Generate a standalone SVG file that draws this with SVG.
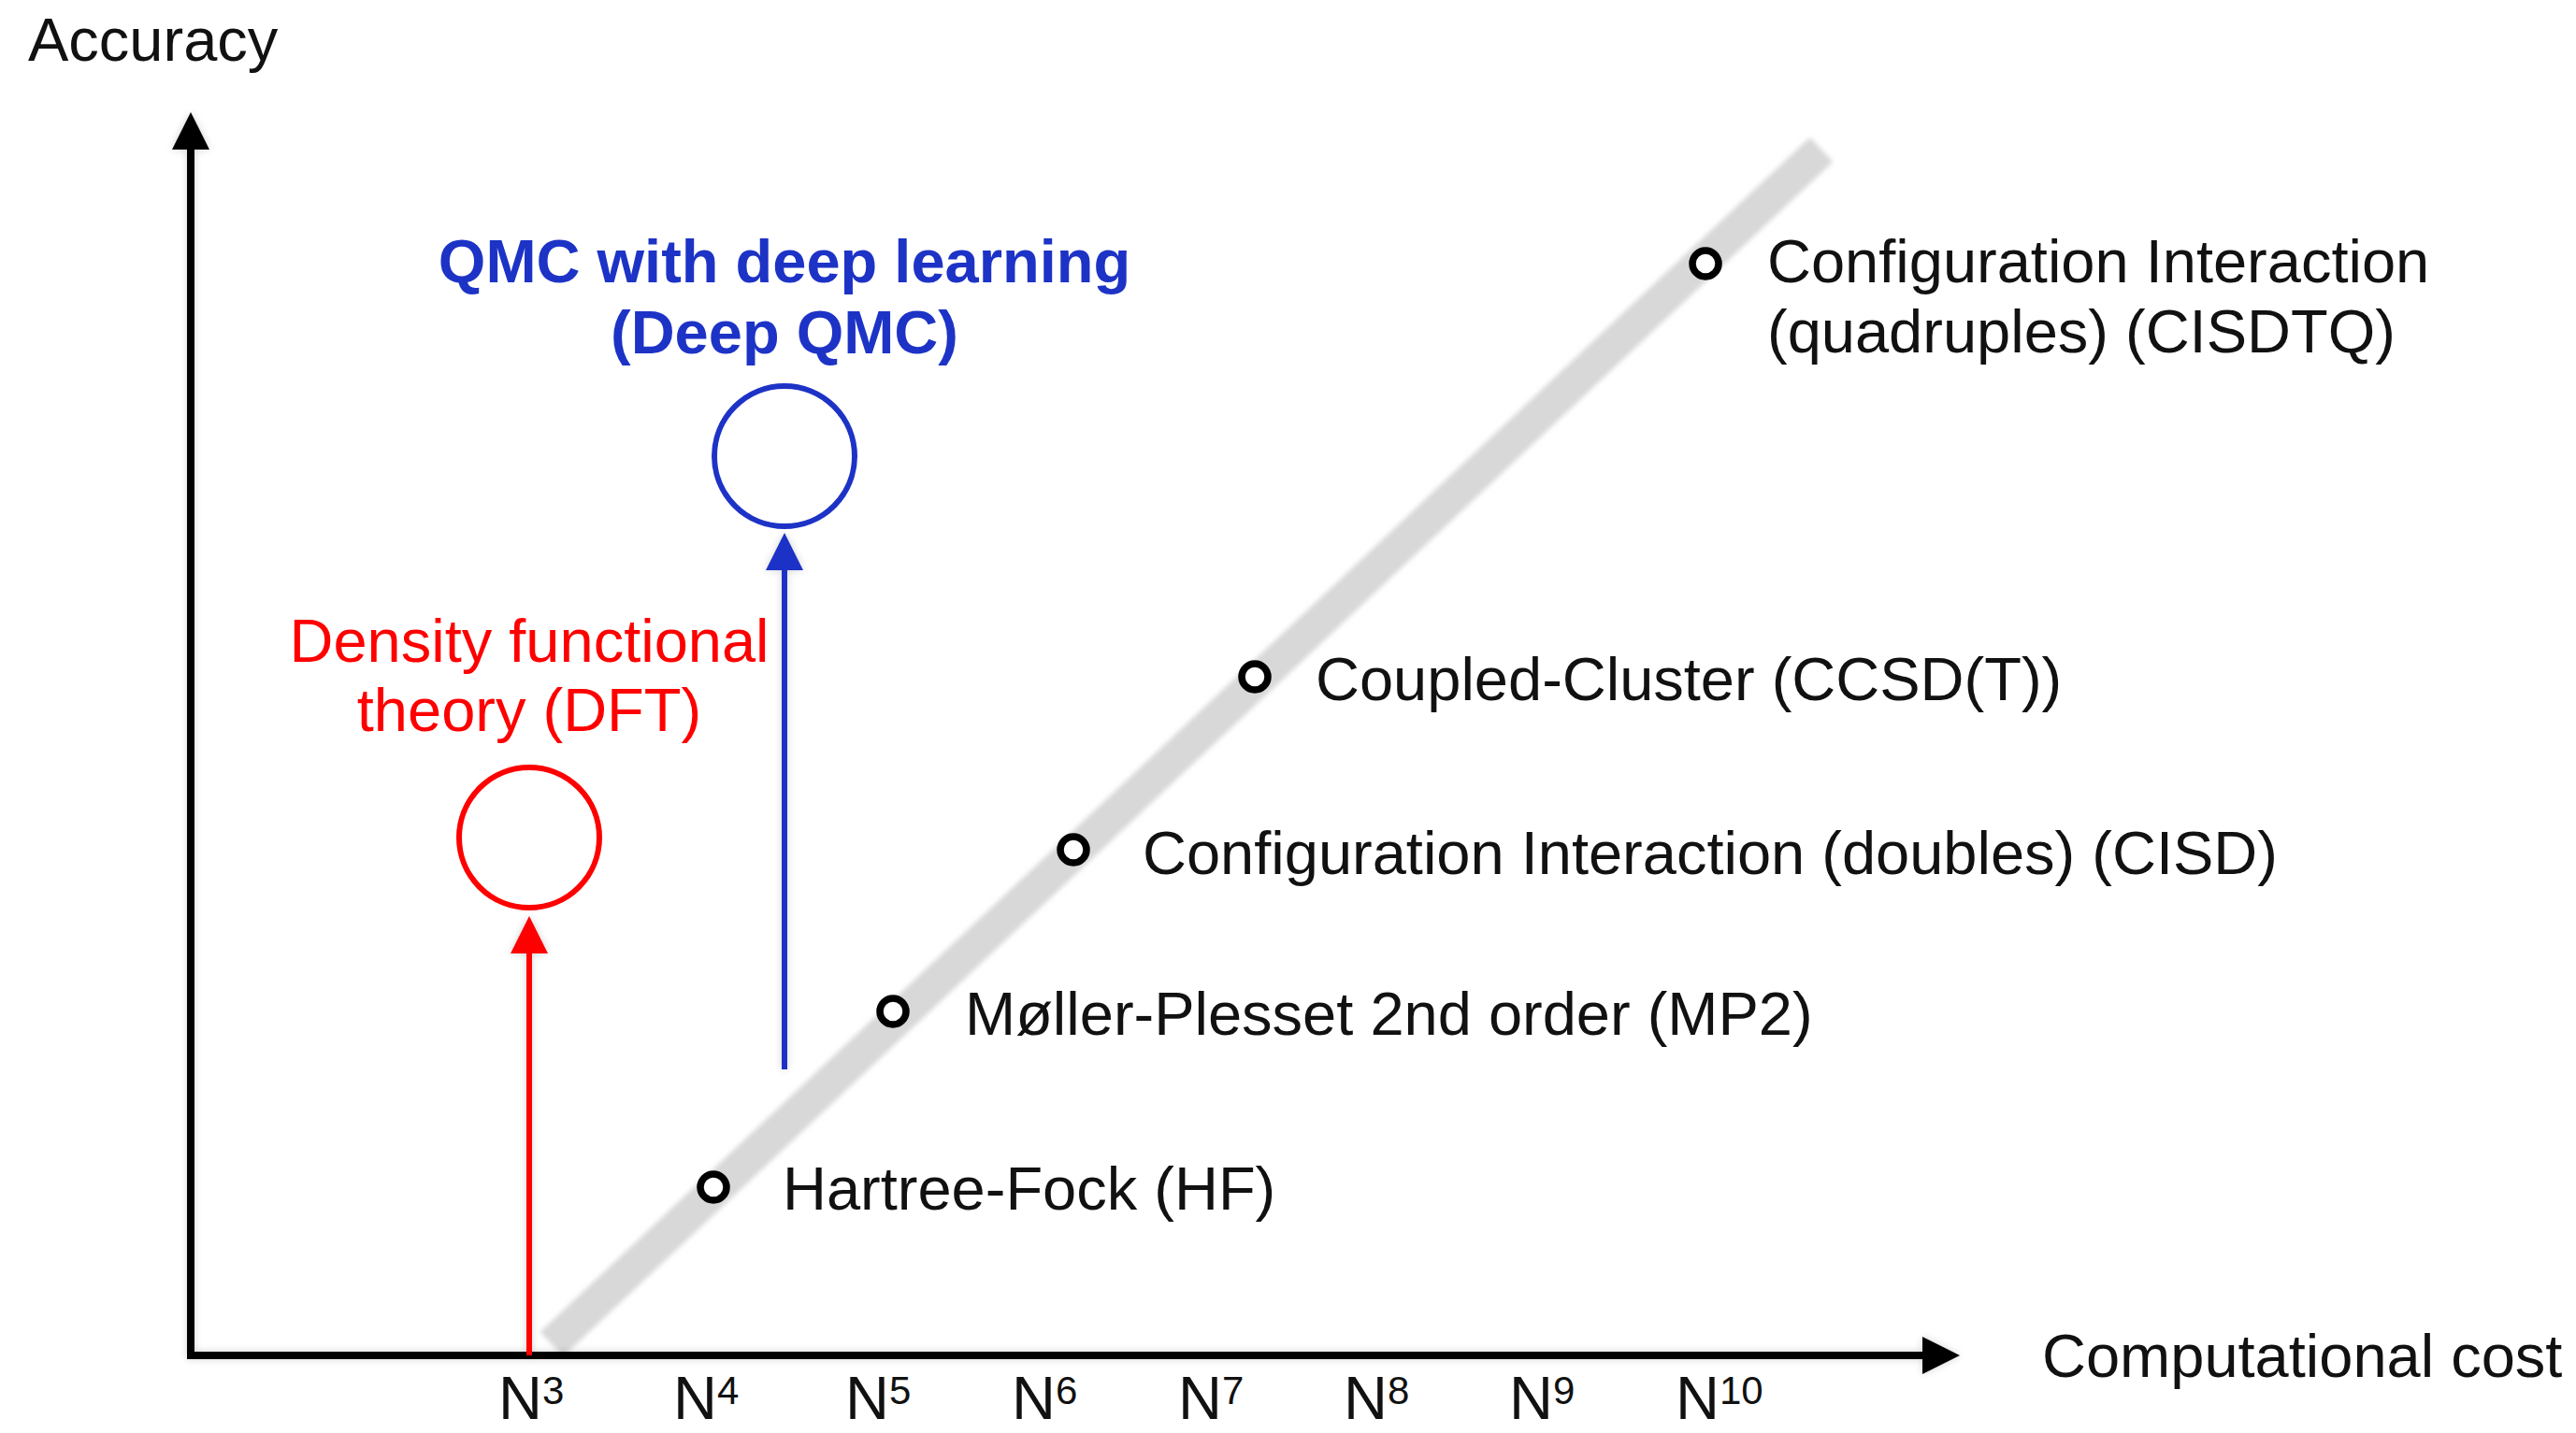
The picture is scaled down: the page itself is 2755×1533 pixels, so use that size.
<svg xmlns="http://www.w3.org/2000/svg" width="2755" height="1533" viewBox="0 0 2755 1533">
  <defs>
    <style>
      text { font-family: "Liberation Sans", Arial, Helvetica, sans-serif; font-size: 65px; fill: #111; }
      .red { fill: #fe0000; }
      .blue { fill: #1d33c6; font-weight: bold; }
      .mid { text-anchor: middle; }
      .sup { font-size: 42px; }
      .axis { stroke: #000; stroke-width: 8; fill: none; }
      .dot { fill: #fff; stroke: #000; stroke-width: 7.5; }
      .ring { fill: none; stroke-width: 6; }
    </style>
    <filter id="soft" x="-10%" y="-10%" width="120%" height="120%">
      <feGaussianBlur stdDeviation="2.5"/>
    </filter>
    <filter id="halo" x="-20%" y="-20%" width="140%" height="140%">
      <feGaussianBlur in="SourceAlpha" stdDeviation="4" result="b"/>
      <feComponentTransfer in="b" result="s"><feFuncA type="linear" slope="0.18"/></feComponentTransfer>
      <feMerge><feMergeNode in="s"/><feMergeNode in="SourceGraphic"/></feMerge>
    </filter>
    <marker id="headBlack" markerUnits="userSpaceOnUse" markerWidth="40" markerHeight="40" viewBox="0 0 38 38" refX="0" refY="19" orient="auto">
      <path d="M0,0 L38,19 L0,38 Z" fill="#000"/>
    </marker>
    <marker id="headRed" markerUnits="userSpaceOnUse" markerWidth="40" markerHeight="40" viewBox="0 0 38 38" refX="0" refY="19" orient="auto">
      <path d="M0,0 L38,19 L0,38 Z" fill="#fe0000"/>
    </marker>
    <marker id="headBlue" markerUnits="userSpaceOnUse" markerWidth="40" markerHeight="40" viewBox="0 0 38 38" refX="0" refY="19" orient="auto">
      <path d="M0,0 L38,19 L0,38 Z" fill="#1d33c6"/>
    </marker>
  </defs>

  <rect width="2755" height="1533" fill="#fff"/>

  <!-- scaling trend band -->
  <g id="trend-band">
    <line x1="590" y1="1438" x2="1948" y2="160" stroke="#d8d8d8" stroke-width="36" filter="url(#soft)"/>
  </g>

  <!-- axes and their labels -->
  <g id="axes" filter="url(#halo)">
    <line class="axis" x1="204" y1="1450" x2="204" y2="160" marker-end="url(#headBlack)"/>
    <line class="axis" x1="200" y1="1450" x2="2056" y2="1450" marker-end="url(#headBlack)"/>
  </g>
  <text id="y-label" x="30" y="65">Accuracy</text>
  <text id="x-label" x="2184" y="1473">Computational cost</text>

  <g id="ticks">
    <text x="533" y="1518">N<tspan class="sup" dy="-16">3</tspan></text>
    <text x="720" y="1518">N<tspan class="sup" dy="-16">4</tspan></text>
    <text x="904" y="1518">N<tspan class="sup" dy="-16">5</tspan></text>
    <text x="1082" y="1518">N<tspan class="sup" dy="-16">6</tspan></text>
    <text x="1260" y="1518">N<tspan class="sup" dy="-16">7</tspan></text>
    <text x="1437" y="1518">N<tspan class="sup" dy="-16">8</tspan></text>
    <text x="1614" y="1518">N<tspan class="sup" dy="-16">9</tspan></text>
    <text x="1792" y="1518">N<tspan class="sup" dy="-16">10</tspan></text>
  </g>

  <!-- connectors: improvement arrows -->
  <g id="connectors" filter="url(#halo)">
    <line x1="566" y1="1450" x2="566" y2="1020" stroke="#fe0000" stroke-width="6" marker-end="url(#headRed)"/>
    <line x1="839" y1="1144" x2="839" y2="610" stroke="#1d33c6" stroke-width="6" marker-end="url(#headBlue)"/>
  </g>

  <!-- methods -->
  <g id="dft">
    <circle class="ring" cx="566" cy="896" r="75" stroke="#fe0000"/>
    <text class="red mid" x="566" y="708">Density functional</text>
    <text class="red mid" x="566" y="782">theory (DFT)</text>
  </g>

  <g id="deep-qmc">
    <circle class="ring" cx="839" cy="488" r="75" stroke="#1d33c6"/>
    <text class="blue mid" x="839" y="302">QMC with deep learning</text>
    <text class="blue mid" x="839" y="378">(Deep QMC)</text>
  </g>

  <g id="hf">
    <circle class="dot" cx="763" cy="1270" r="14"/>
    <text x="837" y="1294">Hartree-Fock (HF)</text>
  </g>

  <g id="mp2">
    <circle class="dot" cx="955" cy="1082" r="14"/>
    <text x="1032" y="1107">Møller-Plesset 2nd order (MP2)</text>
  </g>

  <g id="cisd">
    <circle class="dot" cx="1148" cy="909" r="14"/>
    <text x="1222" y="935">Configuration Interaction (doubles) (CISD)</text>
  </g>

  <g id="ccsdt">
    <circle class="dot" cx="1342" cy="724" r="14"/>
    <text x="1407" y="749">Coupled-Cluster (CCSD(T))</text>
  </g>

  <g id="cisdtq">
    <circle class="dot" cx="1824" cy="282" r="14"/>
    <text x="1890" y="302">Configuration Interaction</text>
    <text x="1890" y="377">(quadruples) (CISDTQ)</text>
  </g>
</svg>
